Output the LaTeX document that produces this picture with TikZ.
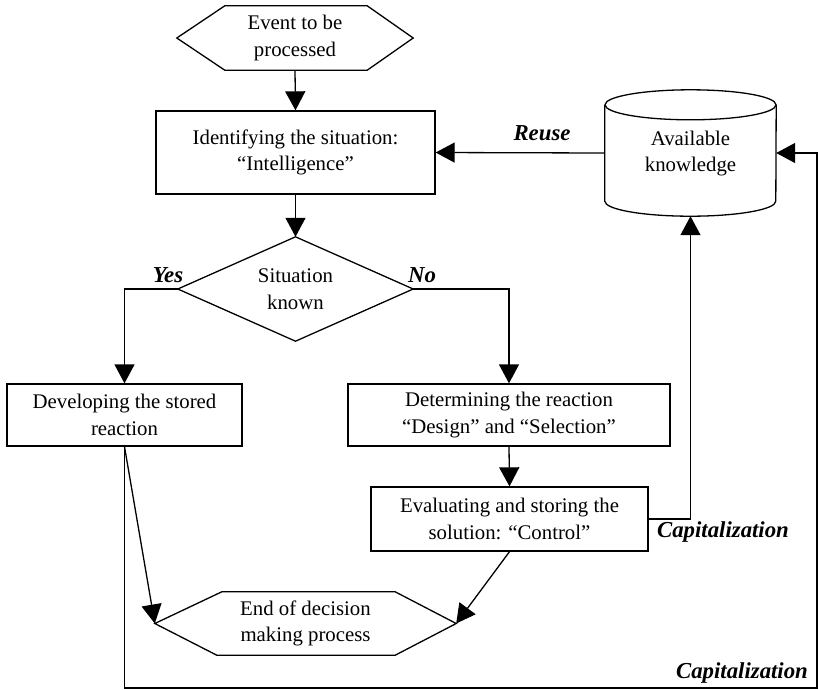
\documentclass[tikz,border=0pt]{standalone}
\usepackage{fontspec}
\setmainfont{Liberation Serif}
\usetikzlibrary{arrows.meta}
\begin{document}
\begin{tikzpicture}[x=1pt,y=-1pt,
  every node/.style={font=\fontsize{20.8}{26.5}\selectfont, align=center, inner sep=0pt},
  shp/.style={line width=1.3pt, line join=miter},
  box/.style={draw, line width=1.3pt},
  con/.style={line width=1.3pt},
  arr/.style={con, -{Triangle[length=19pt,width=20pt]}},
  lab/.style={font=\fontsize{22.8}{27}\selectfont\bfseries\itshape}]
\useasboundingbox (0,0) rectangle (819,689);

% Event hexagon
\node (ev) at (295,38) [minimum width=236pt, minimum height=64pt] {Event to be\\processed};
\draw[shp] (ev.west) -- ([xshift=48pt]ev.north west) -- ([xshift=-46pt]ev.north east) -- (ev.east)
  -- ([xshift=-46pt]ev.south east) -- ([xshift=48pt]ev.south west) -- cycle;

% Identifying box
\node (id) at (295.5,152.5) [box, minimum width=279pt, minimum height=83pt] {Identifying the situation:\\``Intelligence''};

% Diamond
\node (dia) at (295.5,289) [minimum width=235pt, minimum height=104pt] {Situation\\known};
\draw[shp] (dia.north) -- (dia.east) -- (dia.south) -- (dia.west) -- cycle;

% Boxes
\node (dev) at (124.5,415) [box, minimum width=235pt, minimum height=62pt] {Developing the stored\\reaction};
\node (det) at (509,415) [box, minimum width=322pt, minimum height=62pt] {Determining the reaction\\``Design'' and ``Selection''};
\node (evl) at (509.5,519) [box, minimum width=277pt, minimum height=64pt] {Evaluating and storing the\\solution: ``Control''};

% End hexagon
\node (end) at (305.5,623.5) [minimum width=301pt, minimum height=63pt] {End of decision\\making process};
\draw[shp] (end.west) -- ([xshift=67pt]end.north west) -- ([xshift=-61pt]end.north east) -- (end.east)
  -- ([xshift=-61pt]end.south east) -- ([xshift=62pt]end.south west) -- cycle;

% Cylinder
\node (cyl) at (690.5,153) [minimum width=171pt, minimum height=126pt] {\raisebox{-4pt}{\begin{tabular}{@{}c@{}}Available\\knowledge\end{tabular}}};
\draw[shp] ([yshift=-15pt]cyl.north) ellipse [x radius=85.5pt, y radius=15pt];
\draw[shp] ([yshift=-15pt]cyl.north west) -- ([yshift=15pt]cyl.south west)
  arc[start angle=180, end angle=360, x radius=85.5pt, y radius=15pt]
  -- ([yshift=-15pt]cyl.north east);

% Connectors
\coordinate (c1) at (124.5,688);
\coordinate (c2) at (817,688);
\draw[arr] (ev.south) -- (id.north);
\draw[arr] (id.south) -- (dia.north);
\draw[arr] (dia.west) -| (dev.north);
\draw[arr] (dia.east) -| (det.north);
\draw[arr] (det.south) -- (evl.north);
\draw[arr] (cyl.west) -- (id.east);
\draw[arr] (evl.east) -| (cyl.south);
\draw[arr] (dev.south) -- (end.west);
\draw[arr] (evl.south) -- (end.east);
\draw[arr] (dev.south) -- (c1) -- (c2) |- (cyl.east);

% Labels
\node[lab] (lreuse) at (542,133) {Reuse};
\node[lab] (lyes) at (168,275) {Yes};
\node[lab] (lno) at (422,275) {No};
\node[lab] (lcap1) at (723,532) {Capitalization};
\node[lab] (lcap2) at (742,673) {Capitalization};
\end{tikzpicture}
\end{document}
